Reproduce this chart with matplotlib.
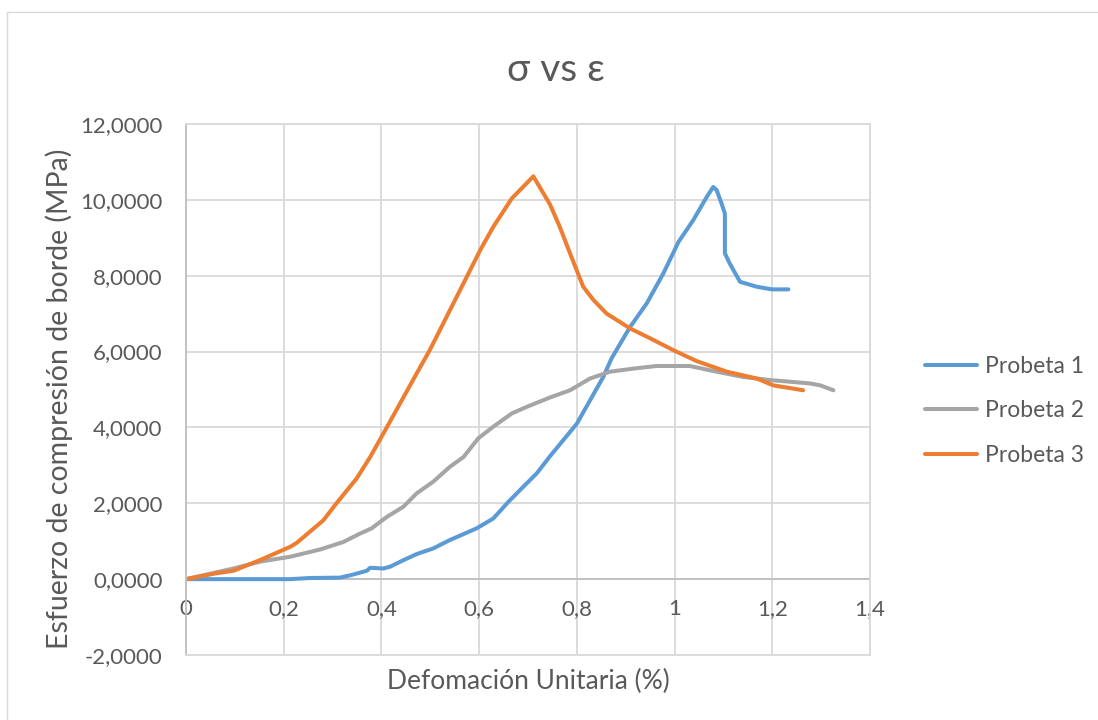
import matplotlib.pyplot as plt
from matplotlib.patches import Rectangle
from matplotlib.ticker import FuncFormatter

plt.rcParams['font.family'] = ['Lato', 'DejaVu Sans']

# Probeta 1
x1 = [0, 0.10, 0.213, 0.254, 0.315, 0.336, 0.370, 0.377, 0.404, 0.418, 0.445, 0.472,
      0.506, 0.540, 0.595, 0.629, 0.660, 0.690, 0.718, 0.745, 0.800, 0.854, 0.871,
      0.909, 0.943, 0.977, 1.008, 1.038, 1.066, 1.079, 1.086, 1.096, 1.103, 1.103,
      1.113, 1.134, 1.168, 1.199, 1.233]
y1 = [0, 0, 0, 0.03, 0.04, 0.10, 0.22, 0.30, 0.28, 0.33, 0.50, 0.66,
      0.81, 1.03, 1.34, 1.60, 2.04, 2.43, 2.79, 3.24, 4.10, 5.33, 5.82,
      6.65, 7.27, 8.06, 8.89, 9.46, 10.08, 10.34, 10.26, 9.91, 9.64, 8.59,
      8.32, 7.84, 7.71, 7.64, 7.64]

# Probeta 2
x2 = [0, 0.097, 0.151, 0.213, 0.274, 0.322, 0.356, 0.380, 0.411, 0.445, 0.472, 0.506,
      0.540, 0.568, 0.598, 0.629, 0.667, 0.697, 0.745, 0.786, 0.827, 0.868, 0.915,
      0.963, 1.031, 1.086, 1.141, 1.195, 1.277, 1.298, 1.325]
y2 = [0, 0.28, 0.46, 0.59, 0.78, 0.98, 1.20, 1.34, 1.64, 1.91, 2.26, 2.57,
      2.96, 3.22, 3.71, 4.02, 4.37, 4.54, 4.79, 4.98, 5.29, 5.47, 5.55,
      5.62, 5.62, 5.47, 5.33, 5.25, 5.16, 5.11, 4.98]

# Probeta 3
x3 = [0, 0.060, 0.097, 0.151, 0.213, 0.227, 0.281, 0.308, 0.349, 0.377, 0.404, 0.438,
      0.472, 0.499, 0.568, 0.602, 0.629, 0.667, 0.711, 0.745, 0.765, 0.786, 0.813,
      0.834, 0.861, 0.909, 0.950, 0.997, 1.045, 1.107, 1.168, 1.202, 1.263]
y3 = [0, 0.15, 0.22, 0.50, 0.85, 0.96, 1.55, 2.00, 2.65, 3.22, 3.84, 4.63,
      5.42, 6.04, 7.80, 8.67, 9.29, 10.04, 10.62, 9.88, 9.29, 8.59, 7.71,
      7.36, 7.00, 6.61, 6.35, 6.04, 5.75, 5.47, 5.29, 5.11, 4.98]

series = [(x1, y1, 'Probeta 1', '#5b9bd5'),
          (x2, y2, 'Probeta 2', '#a5a5a5'),
          (x3, y3, 'Probeta 3', '#ed7d31')]

fig = plt.figure(figsize=(10.98, 7.2), dpi=100)
fig.patches.append(Rectangle((7 / 1098, -0.1), 1.2, (720 - 12) / 720 + 0.1,
                             transform=fig.transFigure, fill=False,
                             edgecolor='#d9d9d9', linewidth=1))
ax = fig.add_axes([186 / 1098, 65 / 720, 684 / 1098, 531 / 720])

for x, y, name, color in series:
    ax.plot(x, y, color=color, linewidth=2.9, label=name, solid_capstyle='round',
            solid_joinstyle='round')

ax.set_xlim(0, 1.4)
ax.set_ylim(-2, 12)
ax.set_xticks([0, 0.2, 0.4, 0.6, 0.8, 1.0, 1.2, 1.4])
ax.set_yticks(range(-2, 13, 2))
ax.xaxis.set_major_formatter(FuncFormatter(lambda v, p: f'{v:g}'.replace('.', ',')))
ax.yaxis.set_major_formatter(FuncFormatter(lambda v, p: f'{v:.4f}'.replace('.', ',')))
ax.grid(True, color='#d9d9d9', linewidth=1.3)
ax.set_axisbelow(True)

for side in ['top', 'right', 'bottom']:
    ax.spines[side].set_color('#d9d9d9')
    ax.spines[side].set_linewidth(1.3)
ax.spines['left'].set_color('#bfbfbf')
ax.spines['left'].set_linewidth(1.3)
ax.axhline(0, color='#bfbfbf', linewidth=1.3, zorder=1)

ax.tick_params(axis='both', length=0, labelsize=16, labelcolor='#595959')
ax.tick_params(axis='y', pad=17)
# x tick labels sit just under the zero line
ax.tick_params(axis='x', pad=-40)

ax.set_xlabel('Defomación Unitaria (%)', fontsize=19, color='#595959', labelpad=10)
ax.set_ylabel('Esfuerzo de compresión de borde (MPa)', fontsize=20.5, color='#595959')
ax.yaxis.set_label_coords(-0.165, 0.483)
fig.text(556 / 1098, 1 - 70 / 720, 'σ vs ε', ha='center', va='center', fontsize=28,
         color='#595959')

ax.legend(loc='center left', bbox_to_anchor=(1.08, 0.46), frameon=False,
          fontsize=16.5, labelcolor='#595959', handlelength=2.3, handletextpad=0.35,
          labelspacing=1.02, borderaxespad=0, borderpad=0)

fig.savefig('out.png', dpi=100)
